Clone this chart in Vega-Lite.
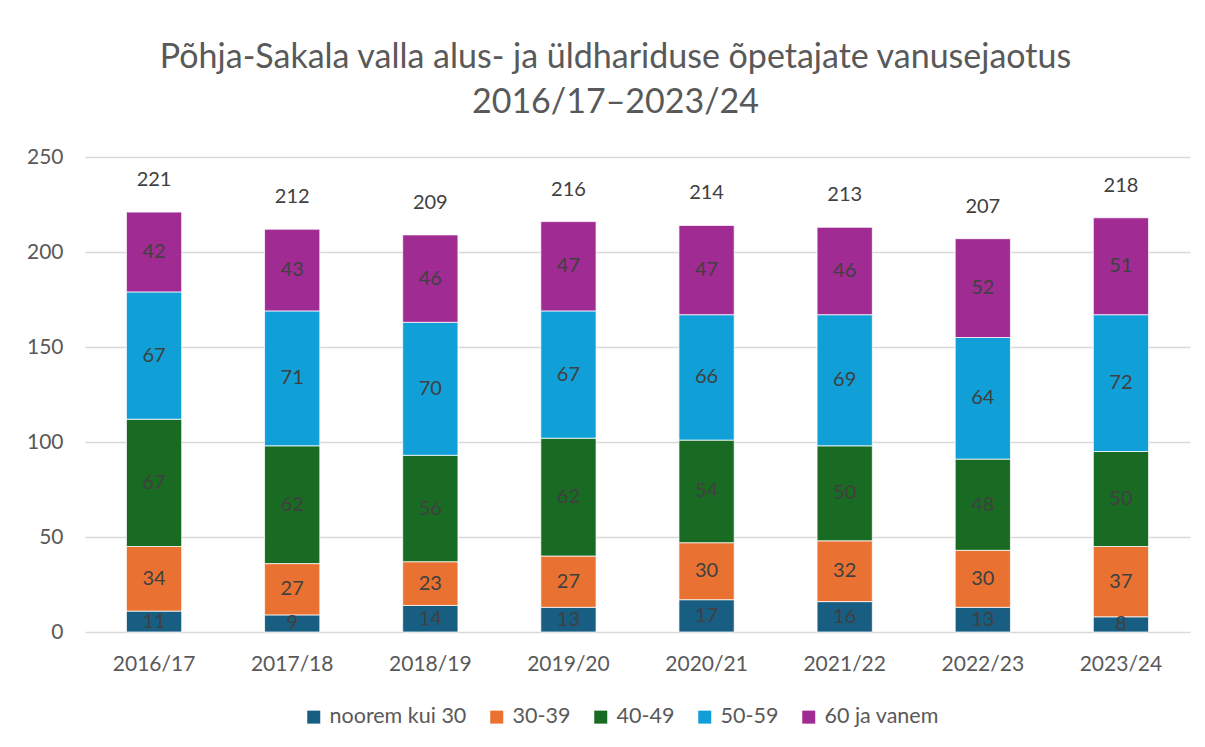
{
  "$schema": "https://vega.github.io/schema/vega-lite/v6.json",
  "width": 1105,
  "height": 475,
  "autosize": {"type": "none"},
  "padding": {"left": 85, "top": 157, "right": 15, "bottom": 115},
  "background": "white",
  "config": {
    "font": "Lato",
    "view": {"stroke": null},
    "axis": {"labelFont": "Lato", "labelColor": "#595959", "labelFontSize": 21, "ticks": false, "domain": false, "title": null},
    "legend": {"labelFont": "Lato", "labelColor": "#595959", "labelFontSize": 21.5}
  },
  "title": {
    "text": ["Põhja-Sakala valla alus- ja üldhariduse õpetajate vanusejaotus", "2016/17–2023/24"],
    "font": "Lato",
    "fontSize": 34,
    "fontWeight": "normal",
    "color": "#595959",
    "lineHeight": 45,
    "anchor": "middle",
    "dx": -22,
    "offset": 26
  },
  "data": {
    "values": [
      {"aasta": "2016/17", "grupp": "noorem kui 30", "ord": 1, "v": 11},
      {"aasta": "2016/17", "grupp": "30-39", "ord": 2, "v": 34},
      {"aasta": "2016/17", "grupp": "40-49", "ord": 3, "v": 67},
      {"aasta": "2016/17", "grupp": "50-59", "ord": 4, "v": 67},
      {"aasta": "2016/17", "grupp": "60 ja vanem", "ord": 5, "v": 42},
      {"aasta": "2017/18", "grupp": "noorem kui 30", "ord": 1, "v": 9},
      {"aasta": "2017/18", "grupp": "30-39", "ord": 2, "v": 27},
      {"aasta": "2017/18", "grupp": "40-49", "ord": 3, "v": 62},
      {"aasta": "2017/18", "grupp": "50-59", "ord": 4, "v": 71},
      {"aasta": "2017/18", "grupp": "60 ja vanem", "ord": 5, "v": 43},
      {"aasta": "2018/19", "grupp": "noorem kui 30", "ord": 1, "v": 14},
      {"aasta": "2018/19", "grupp": "30-39", "ord": 2, "v": 23},
      {"aasta": "2018/19", "grupp": "40-49", "ord": 3, "v": 56},
      {"aasta": "2018/19", "grupp": "50-59", "ord": 4, "v": 70},
      {"aasta": "2018/19", "grupp": "60 ja vanem", "ord": 5, "v": 46},
      {"aasta": "2019/20", "grupp": "noorem kui 30", "ord": 1, "v": 13},
      {"aasta": "2019/20", "grupp": "30-39", "ord": 2, "v": 27},
      {"aasta": "2019/20", "grupp": "40-49", "ord": 3, "v": 62},
      {"aasta": "2019/20", "grupp": "50-59", "ord": 4, "v": 67},
      {"aasta": "2019/20", "grupp": "60 ja vanem", "ord": 5, "v": 47},
      {"aasta": "2020/21", "grupp": "noorem kui 30", "ord": 1, "v": 17},
      {"aasta": "2020/21", "grupp": "30-39", "ord": 2, "v": 30},
      {"aasta": "2020/21", "grupp": "40-49", "ord": 3, "v": 54},
      {"aasta": "2020/21", "grupp": "50-59", "ord": 4, "v": 66},
      {"aasta": "2020/21", "grupp": "60 ja vanem", "ord": 5, "v": 47},
      {"aasta": "2021/22", "grupp": "noorem kui 30", "ord": 1, "v": 16},
      {"aasta": "2021/22", "grupp": "30-39", "ord": 2, "v": 32},
      {"aasta": "2021/22", "grupp": "40-49", "ord": 3, "v": 50},
      {"aasta": "2021/22", "grupp": "50-59", "ord": 4, "v": 69},
      {"aasta": "2021/22", "grupp": "60 ja vanem", "ord": 5, "v": 46},
      {"aasta": "2022/23", "grupp": "noorem kui 30", "ord": 1, "v": 13},
      {"aasta": "2022/23", "grupp": "30-39", "ord": 2, "v": 30},
      {"aasta": "2022/23", "grupp": "40-49", "ord": 3, "v": 48},
      {"aasta": "2022/23", "grupp": "50-59", "ord": 4, "v": 64},
      {"aasta": "2022/23", "grupp": "60 ja vanem", "ord": 5, "v": 52},
      {"aasta": "2023/24", "grupp": "noorem kui 30", "ord": 1, "v": 8},
      {"aasta": "2023/24", "grupp": "30-39", "ord": 2, "v": 37},
      {"aasta": "2023/24", "grupp": "40-49", "ord": 3, "v": 50},
      {"aasta": "2023/24", "grupp": "50-59", "ord": 4, "v": 72},
      {"aasta": "2023/24", "grupp": "60 ja vanem", "ord": 5, "v": 51}
    ]
  },
  "encoding": {
    "x": {
      "field": "aasta",
      "type": "nominal",
      "sort": null,
      "scale": {"paddingInner": 0.6, "paddingOuter": 0.3},
      "axis": {"labelAngle": 0, "labelPadding": 21, "grid": false}
    }
  },
  "layer": [
    {
      "mark": {"type": "bar", "stroke": "white", "strokeWidth": 0.75},
      "encoding": {
        "y": {
          "field": "v",
          "type": "quantitative",
          "stack": "zero",
          "scale": {"domain": [0, 250], "nice": false},
          "axis": {"values": [0, 50, 100, 150, 200, 250], "grid": true, "gridColor": "#d9d9d9", "gridWidth": 1.5, "labelPadding": 22}
        },
        "color": {
          "field": "grupp",
          "type": "nominal",
          "scale": {
            "domain": ["noorem kui 30", "30-39", "40-49", "50-59", "60 ja vanem"],
            "range": ["#175e82", "#e97232", "#196a22", "#109fd6", "#a02b93"]
          },
          "legend": {
            "title": null,
            "orient": "none",
            "direction": "horizontal",
            "legendX": 218,
            "legendY": 549,
            "symbolType": "square",
            "symbolSize": 169,
            "symbolStrokeWidth": 0,
            "labelOffset": 5,
            "columnPadding": 19
          }
        },
        "order": {"field": "ord", "type": "quantitative"}
      }
    },
    {
      "mark": {"type": "text", "fontSize": 20, "color": "#404040", "baseline": "middle"},
      "encoding": {
        "y": {"field": "v", "type": "quantitative", "stack": "zero", "bandPosition": 0.5},
        "text": {"field": "v", "type": "quantitative"},
        "order": {"field": "ord", "type": "quantitative"},
        "detail": {"field": "grupp"}
      }
    },
    {
      "mark": {"type": "text", "fontSize": 20, "color": "#404040", "baseline": "middle", "dy": -32},
      "encoding": {
        "y": {"aggregate": "sum", "field": "v", "type": "quantitative"},
        "text": {"aggregate": "sum", "field": "v", "type": "quantitative"}
      }
    }
  ]
}
